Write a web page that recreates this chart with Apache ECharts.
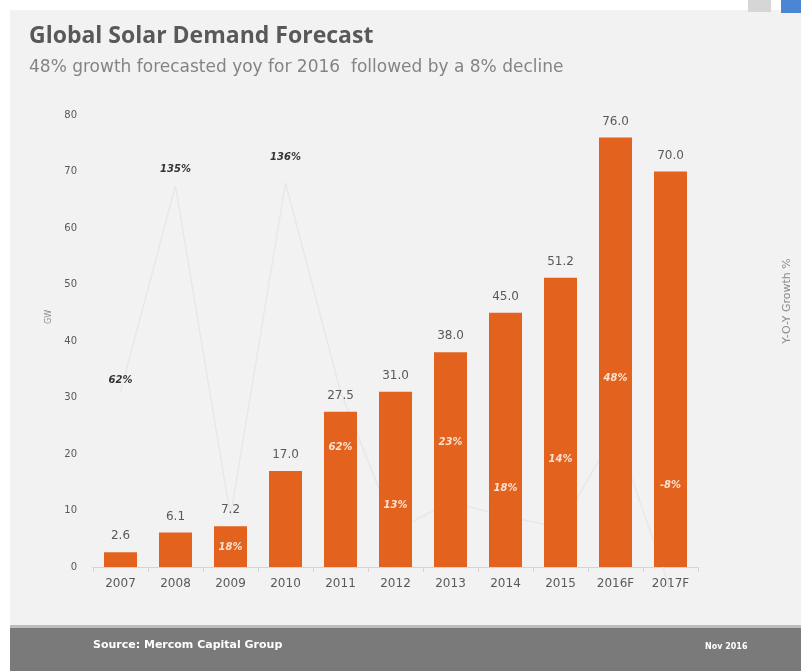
<!DOCTYPE html>
<html>
<head>
<meta charset="utf-8">
<script src="https://cdn.jsdelivr.net/npm/echarts@6/dist/echarts.min.js"></script>
<style>
html,body{margin:0;padding:0;background:#ffffff;}
#chart{width:801px;height:671px;}
</style>
</head>
<body>
<div id="chart"></div>
<script>
// ---- data ----
const categories = ['2007','2008','2009','2010','2011','2012','2013','2014','2015','2016F','2017F'];
const demandGW = [2.6, 6.1, 7.2, 17.0, 27.5, 31.0, 38.0, 45.0, 51.2, 76.0, 70.0];
const yoyGrowth = [62, 135, 18, 136, 62, 13, 23, 18, 14, 48, -8];
const yTicks = [0, 10, 20, 30, 40, 50, 60, 70, 80];
// label styling (not data): vertical shift of growth labels and whether they sit inside a bar
const growthLabelShift = [-11, -16, 31, -25, 56, -25, -60, -28, -68, -53, -104];
const growthLabelInside = [false, false, true, false, true, true, true, true, true, true, true];

const chart = echarts.init(document.getElementById('chart'));
const FONT = '"Open Sans", Lato, sans-serif';
const NUMFONT = '"DejaVu Sans", "Open Sans", sans-serif';

chart.setOption({
  animation: false,
  backgroundColor: '#ffffff',
  graphic: [
    { type: 'rect', left: 10, top: 10, shape: { width: 791, height: 616 }, style: { fill: '#f2f2f2' }, z: -10 },
    { type: 'rect', left: 10, top: 625, shape: { width: 791, height: 3 }, style: { fill: '#bdbdbd' }, z: -9 },
    { type: 'rect', left: 10, top: 628, shape: { width: 791, height: 43 }, style: { fill: '#7a7a7a' }, z: -9 },
    { type: 'rect', left: 748, top: 0, shape: { width: 23, height: 12 }, style: { fill: '#d6d6d6' }, z: -8 },
    { type: 'rect', left: 781, top: 0, shape: { width: 20, height: 13 }, style: { fill: '#4a86d4' }, z: -8 },
    { type: 'text', left: 93, top: 640, style: { text: 'Source: Mercom Capital Group', fill: '#ffffff', font: 'bold 11px ' + NUMFONT }, z: 5 },
    { type: 'text', left: 705, top: 643, style: { text: 'Nov 2016', fill: '#ffffff', font: 'bold 8px ' + NUMFONT }, z: 5 }
  ],
  title: {
    text: 'Global Solar Demand Forecast',
    subtext: '48% growth forecasted yoy for 2016  followed by a 8% decline',
    left: 24, top: 20,
    itemGap: 11,
    textStyle: { fontFamily: FONT, fontSize: 23, fontWeight: 'bold', color: '#595959' },
    subtextStyle: { fontFamily: NUMFONT, fontSize: 17, color: '#848484' }
  },
  grid: { left: 93, right: 93, top: 115, bottom: 104, containLabel: false },
  xAxis: {
    type: 'category',
    data: categories,
    axisLine: { lineStyle: { color: '#c9d6e3', width: 1 } },
    axisTick: { show: true, lineStyle: { color: '#c9d6e3' } },
    axisLabel: { color: '#595959', fontSize: 12, fontFamily: NUMFONT, margin: 11 }
  },
  yAxis: [
    {
      type: 'value', min: 0, max: 80, interval: 10,
      name: 'GW', nameLocation: 'middle', nameGap: 36, nameRotate: 90,
      nameTextStyle: { color: '#8c8c8c', fontSize: 8, fontFamily: NUMFONT, padding: [0, 0, 0, 48] },
      axisLine: { show: false }, axisTick: { show: false },
      splitLine: { show: false },
      axisLabel: { color: '#595959', fontSize: 10, fontFamily: NUMFONT, margin: 16,
        formatter: v => yTicks.includes(v) ? String(v) : '' }
    },
    {
      type: 'value', min: 0, max: 160, interval: 20,
      name: 'Y-O-Y Growth %', nameLocation: 'middle', nameGap: 84, nameRotate: 90,
      nameTextStyle: { color: '#8c8c8c', fontSize: 11, fontFamily: NUMFONT, padding: [0, 0, 0, 80] },
      axisLine: { show: false }, axisTick: { show: false },
      splitLine: { show: false }, axisLabel: { show: false }
    }
  ],
  series: [
    {
      name: 'Growth line', type: 'line', yAxisIndex: 1, z: 1, clip: false,
      data: yoyGrowth, symbol: 'none', silent: true,
      lineStyle: { color: '#e8e8e8', width: 1.5 }
    },
    {
      name: 'Demand', type: 'bar', z: 2, barWidth: 33,
      data: demandGW,
      itemStyle: { color: '#e2621e' },
      label: { show: true, position: 'top', distance: 10, color: '#595959', fontSize: 12, fontFamily: NUMFONT,
        formatter: p => p.value.toFixed(1) }
    },
    {
      name: 'Growth labels', type: 'line', yAxisIndex: 1, z: 10, clip: false, silent: true,
      symbol: 'circle', symbolSize: 1,
      itemStyle: { color: 'rgba(0,0,0,0)' },
      lineStyle: { width: 0, opacity: 0 },
      data: yoyGrowth.map((v, i) => ({
        value: v,
        label: {
          offset: [0, growthLabelShift[i]],
          color: growthLabelInside[i] ? '#fbe3d3' : '#333333'
        }
      })),
      label: { show: true, position: 'inside', fontSize: 10, fontWeight: 'bold', fontStyle: 'italic',
        fontFamily: NUMFONT, formatter: p => p.value + '%' }
    }
  ]
});
</script>
</body>
</html>
